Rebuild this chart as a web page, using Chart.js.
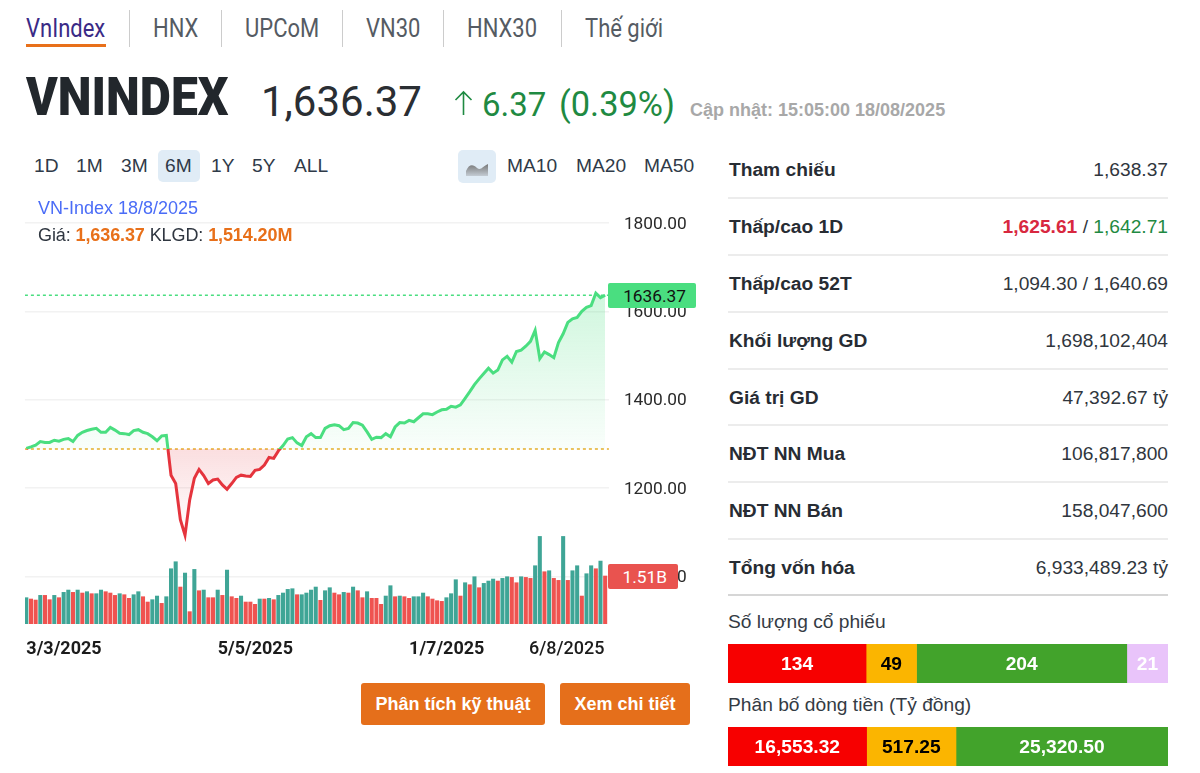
<!DOCTYPE html>
<html lang="vi">
<head>
<meta charset="utf-8">
<title>VNINDEX</title>
<script src="https://cdn.jsdelivr.net/npm/chart.js@4"></script>
<style>
  html, body { margin: 0; padding: 0; background: #fff; }
  body { position: relative; width: 1200px; height: 773px; overflow: hidden; font-family: "Liberation Sans", Arial, sans-serif; color: #2b3440; }
  .t { position: absolute; white-space: nowrap; line-height: 1; }
  .r { font-family: Roboto, sans-serif; }
  .tab { font-family: Roboto, sans-serif; font-size: 25px; color: #555b63; top: 16px; transform: scaleX(.88); transform-origin: left center; }
  .sep { position: absolute; top: 10px; width: 1px; height: 37px; background: #ccc; }
  .rng { font-size: 19.2px; top: 156px; color: #2f3a48; }
  .pill { position: absolute; background: #e0ecf6; border-radius: 5px; }
  .lab { font-weight: 700; font-size: 19.2px; left: 729px; color: #272c33; }
  .val { font-size: 19.2px; right: 32px; color: #30363d; }
  .div { position: absolute; left: 728px; width: 440px; height: 1.5px; background: #ececec; }
  .btn { position: absolute; top: 683px; height: 42px; line-height: 42px; background: #e56f1b; color: #fff; font-weight: 700; font-size: 18px; border-radius: 3px; text-align: center; }
  .tag { position: absolute; left: 608px; height: 25px; line-height: 26px; border-radius: 2px; font-family: Roboto, sans-serif; font-size: 17.3px; text-align: right; z-index: 3; }
  canvas { position: absolute; display: block; }
</style>
</head>
<body>
  <div class="t tab" style="left:26px;color:#3a2a86">VnIndex</div>
  <div style="position:absolute;left:26px;top:44px;width:80px;height:3px;background:#e8701a"></div>
  <div class="sep" style="left:129px"></div>
  <div class="t tab" style="left:153px">HNX</div>
  <div class="sep" style="left:221px"></div>
  <div class="t tab" style="left:245px">UPCoM</div>
  <div class="sep" style="left:342px"></div>
  <div class="t tab" style="left:366px">VN30</div>
  <div class="sep" style="left:443px"></div>
  <div class="t tab" style="left:467px">HNX30</div>
  <div class="sep" style="left:561px"></div>
  <div class="t tab" style="left:585px">Thế giới</div>

  <div class="t r" style="left:26px;top:70px;font-size:54px;font-weight:900;color:#22272c;transform:scaleX(.89);transform-origin:left center">VNINDEX</div>
  <div class="t r" style="left:261px;top:81px;font-size:42px;color:#2a2e33">1,636.37</div>
  <svg style="position:absolute;left:454px;top:90px" width="20" height="26" viewBox="0 0 20 26"><path d="M9.5 25 V2 M1.5 10 L9.5 2 L17.5 10" fill="none" stroke="#1f8a42" stroke-width="1.6"/></svg>
  <div class="t r" style="left:482px;top:88px;font-size:33px;color:#1f8a42">6.37</div>
  <div class="t r" style="left:559px;top:87px;font-size:34.4px;color:#1f8a42">(0.39%)</div>
  <div class="t" style="left:690px;top:101px;font-size:18px;font-weight:700;color:#a8a8a8">Cập nhật: 15:05:00 18/08/2025</div>

  <div class="pill" style="left:158px;top:150px;width:42px;height:32px"></div>
  <div class="t rng" style="left:34px">1D</div>
  <div class="t rng" style="left:76px">1M</div>
  <div class="t rng" style="left:121px">3M</div>
  <div class="t rng" style="left:165px">6M</div>
  <div class="t rng" style="left:211px">1Y</div>
  <div class="t rng" style="left:252px">5Y</div>
  <div class="t rng" style="left:294px">ALL</div>
  <div class="pill" style="left:458px;top:150px;width:38px;height:33px"></div>
  <svg style="position:absolute;left:465px;top:160px" width="24" height="20" viewBox="0 0 24 20">
    <defs><linearGradient id="ic" x1="0" y1="0" x2="0" y2="1"><stop offset="0" stop-color="#777"/><stop offset="1" stop-color="#c4ccd4"/></linearGradient></defs>
    <path d="M1 11 C4 4 8 4 12 8 C16 11 18 6 23 4 L23 16 L1 16 Z" fill="url(#ic)"/>
  </svg>
  <div class="t rng" style="left:507px">MA10</div>
  <div class="t rng" style="left:576px">MA20</div>
  <div class="t rng" style="left:644px">MA50</div>

  <canvas id="priceChart" width="700" height="470" style="left:0;top:190px;width:700px;height:470px"></canvas>
  <div class="t" style="left:38px;top:199px;font-size:18px;color:#4a6cf7;z-index:2">VN-Index 18/8/2025</div>
  <div class="t" style="left:38px;top:226px;font-size:18px;letter-spacing:-.1px;color:#2f3640;z-index:2">Giá: <b style="color:#e8701a">1,636.37</b> KLGD: <b style="color:#e8701a">1,514.20M</b></div>
  <div class="tag" style="top:283px;width:88px;background:#4ade80;color:#111"><span style="margin-right:10px">1636.37</span></div>
  <div class="tag" style="top:564px;width:70px;background:#e9534f;color:#fff"><span style="margin-right:11px">1.51B</span></div>

  <div class="btn" style="left:361px;width:184px">Phân tích kỹ thuật</div>
  <div class="btn" style="left:560px;width:130px">Xem chi tiết</div>

  <div class="t lab" style="top:160px">Tham chiếu</div><div class="t val" style="top:160px">1,638.37</div><div class="div" style="top:197px"></div>
  <div class="t lab" style="top:217px">Thấp/cao 1D</div><div class="t val" style="top:217px"><b style="color:#d8283f">1,625.61</b> / <span style="color:#1f8a42">1,642.71</span></div><div class="div" style="top:254px"></div>
  <div class="t lab" style="top:274px">Thấp/cao 52T</div><div class="t val" style="top:274px">1,094.30 / 1,640.69</div><div class="div" style="top:311px"></div>
  <div class="t lab" style="top:331px">Khối lượng GD</div><div class="t val" style="top:331px">1,698,102,404</div><div class="div" style="top:368px"></div>
  <div class="t lab" style="top:388px">Giá trị GD</div><div class="t val" style="top:388px">47,392.67 tỷ</div><div class="div" style="top:424px"></div>
  <div class="t lab" style="top:444px">NĐT NN Mua</div><div class="t val" style="top:444px">106,817,800</div><div class="div" style="top:481px"></div>
  <div class="t lab" style="top:501px">NĐT NN Bán</div><div class="t val" style="top:501px">158,047,600</div><div class="div" style="top:538px"></div>
  <div class="t lab" style="top:558px">Tổng vốn hóa</div><div class="t val" style="top:558px">6,933,489.23 tỷ</div>
  <div style="position:absolute;left:728px;top:594px;width:440px;height:2px;background:#d6d6d6"></div>

  <div class="t" style="left:728px;top:612px;font-size:19.2px;color:#343b44">Số lượng cổ phiếu</div>
  <canvas id="stockBar" width="440" height="39" style="left:728px;top:644px;width:440px;height:39px"></canvas>
  <div class="t" style="left:728px;top:695px;font-size:19.2px;color:#343b44">Phân bố dòng tiền (Tỷ đồng)</div>
  <canvas id="flowBar" width="440" height="39" style="left:728px;top:727px;width:440px;height:39px"></canvas>

<script>
// DATA
const closes = [1289.5,1293,1297,1305,1303,1303,1308,1306,1310,1312,1305,1319,1326,1330,1333,1335,1326,1326,1337,1331,1324,1323,1321,1330,1332,1326,1323,1316,1307,1318,1319,
  1229,1210,1128,1093,1173,1222,1242,1228,1210,1218,1220,1207,1197,1210,1224,1229,1227,1226,1240,1242,1252,1269,1267,1284,1296,1311,1314,1302,1296,1316,1323,1314,1314,
  1335,1341,1343,1341,1332,1335,1348,1347,1342,1327,1310,1315,1314,1323,1316,1338,1348,1347,1353,1350,1359,1368,1368,1366,1372,1377,1378,1385,1383,1388,
  1403,1418,1434,1447,1459,1471,1460,1467,1490,1498,1485,1509,1512,1521,1532,1557,1493,1508,1502,1495,1529,1549,1575,1583,1586,1600,1609,1613,1641,1631,1636.37];
const volumes = [830,788,756,903,903,767,903,830,998,1071,998,1071,977,1019,956,956,1071,1019,977,903,956,924,809,924,1019,861,693,767,882,651,861,
  1743,1964,1166,1607,389,1722,1050,1071,830,830,1071,903,1701,861,809,882,693,693,620,788,788,809,767,903,977,1092,1113,924,924,977,1071,1166,746,
  1050,1145,977,924,998,977,1166,1050,830,1019,809,809,620,882,1208,861,882,861,809,861,861,977,861,788,735,714,830,956,1397,882,
  1302,1239,1491,1145,1281,1355,1418,1355,1439,1491,1470,1302,1491,1470,1439,1838,2762,1649,1680,1439,1376,2762,1376,1680,1838,882,1586,1838,1743,1985,1514];
// T = teal, R = red volume bar
const volumeSides = ('TRRTRRTRTT'+'RTRTRTTRRR'+'TRRTTRRTTR'+'TTTRTRTRTR'+'RTRTRRTRRR'+'TRTRTTTTRT'+'TTTRTTRRTR'+'TRRTRRRTTR'+'TRRTTTRRRR'+'TTTRTRTRTT'+'TRTTRRTRRT'+'TRTRRTRTTR'+'TTRTR').split('');
const priceTicks = [1000,1200,1400,1600,1800];
const tickIndexes = [0,41,82,107.7]; // last label is pushed in from the right edge on the page
const tickLabels = ['3/3/2025','5/5/2025','1/7/2025','6/8/2025'];
const prevClose = 1288;
const lastPrice = 1636.37;

const stockCounts = [134,49,204,21];
const stockFloor = 40; // thin segments are widened on the page so the number fits
const flowValues = [16553.32,517.25,25320.50];
const flowFloor = 10674;

const xMin = -0.3, xMax = 124.8;

// ---------- MAIN CHART ----------
function lineColor(ctx) {
  const {chart} = ctx;
  if (!chart.chartArea) return '#4ade80';
  const {top, bottom} = chart.chartArea;
  const f = (chart.scales.y.getPixelForValue(prevClose) - top) / (bottom - top);
  const g = chart.ctx.createLinearGradient(0, top, 0, bottom);
  g.addColorStop(0, '#4ade80'); g.addColorStop(f, '#4ade80');
  g.addColorStop(f, '#e5343d'); g.addColorStop(1, '#e5343d');
  return g;
}
function areaFill(ctx) {
  const {chart} = ctx;
  if (!chart.chartArea) return false;
  const y = chart.scales.y;
  const up = chart.ctx.createLinearGradient(0, y.getPixelForValue(lastPrice), 0, y.getPixelForValue(prevClose));
  up.addColorStop(0, 'rgba(74,222,128,0.26)');
  up.addColorStop(1, 'rgba(74,222,128,0.03)');
  const down = chart.ctx.createLinearGradient(0, y.getPixelForValue(prevClose), 0, y.getPixelForValue(1090));
  down.addColorStop(0, 'rgba(229,52,61,0.16)');
  down.addColorStop(1, 'rgba(229,52,61,0)');
  return {target: {value: prevClose}, above: up, below: down};
}

new Chart(document.getElementById('priceChart'), {
  type: 'bar',
  data: {
    datasets: [
      { type: 'line', data: closes.map((y, x) => ({x, y})), yAxisID: 'y', borderColor: lineColor, borderWidth: 3, pointRadius: 0, tension: 0, fill: areaFill, order: 1 },
      { type: 'line', data: [{x: xMin, y: prevClose}, {x: xMax, y: prevClose}], yAxisID: 'y', borderColor: '#e6ae2a', borderWidth: 1.5, borderDash: [3, 3], pointRadius: 0, fill: false, order: 2 },
      { type: 'line', data: [{x: xMin, y: lastPrice}, {x: xMax, y: lastPrice}], yAxisID: 'y', borderColor: '#4ade80', borderWidth: 1.5, borderDash: [3, 3], pointRadius: 0, fill: false, order: 2 },
      { type: 'bar', data: volumes.map((y, x) => ({x, y})), yAxisID: 'vol', barThickness: 3.4,
        backgroundColor: volumeSides.map(s => s === 'T' ? '#3fa596' : '#ef5350'), order: 3 }
    ]
  },
  options: {
    responsive: false,
    animation: false,
    events: [],
    layout: { padding: { left: 24.9, top: 10, right: 0, bottom: 0 } },
    plugins: { legend: { display: false }, tooltip: { enabled: false } },
    scales: {
      x: {
        type: 'linear', min: xMin, max: xMax, offset: false,
        grid: { display: false }, border: { display: false },
        afterBuildTicks: s => { s.ticks = tickIndexes.map(value => ({value})); },
        afterFit: s => { s.height = 36; s.paddingLeft = 0; s.paddingRight = 0; },
        ticks: {
          align: 'start', maxRotation: 0, autoSkip: false, padding: 7, color: '#1c1c1c',
          font: ctx => ({ family: 'Roboto', size: 18, weight: ctx.index === 3 ? '500' : '700' }),
          callback: v => tickLabels[tickIndexes.indexOf(v)]
        }
      },
      y: {
        position: 'right', min: 892, max: 1852,
        grid: { color: '#f2f2f2', lineWidth: 1.5, drawTicks: false }, border: { display: false },
        afterBuildTicks: s => { s.ticks = priceTicks.map(value => ({value})); },
        afterFit: s => { s.width = 91.1; s.paddingTop = 0; s.paddingBottom = 0; },
        ticks: { padding: 15, labelOffset: 1.5, color: '#2a2a2a', font: { family: 'Roboto', size: 17.3 }, callback: v => v.toFixed(2) }
      },
      vol: { display: false, min: 0, max: 13374 }
    }
  }
});

// ---------- STACKED BARS ----------
const segmentLabels = {
  id: 'segmentLabels',
  afterDatasetsDraw(chart) {
    const {ctx} = chart;
    chart.data.datasets.forEach((ds, i) => {
      const bar = chart.getDatasetMeta(i).data[0];
      ctx.save();
      ctx.font = '700 19.2px "Liberation Sans"';
      ctx.fillStyle = ds.textColor;
      ctx.textAlign = 'center';
      ctx.textBaseline = 'middle';
      ctx.fillText(ds.text, bar.x - bar.width / 2, bar.y + 1);
      ctx.restore();
    });
  }
};

function stackedBar(id, values, floor, colors, textColors, format) {
  const shown = values.map(v => Math.max(v, floor));
  new Chart(document.getElementById(id), {
    type: 'bar',
    data: {
      labels: [''],
      datasets: values.map((v, i) => ({
        data: [shown[i]], backgroundColor: colors[i], barPercentage: 1, categoryPercentage: 1,
        text: format(v), textColor: textColors[i]
      }))
    },
    options: {
      indexAxis: 'y', responsive: false, animation: false, events: [],
      plugins: { legend: { display: false }, tooltip: { enabled: false } },
      scales: {
        x: { display: false, stacked: true, min: 0, max: shown.reduce((a, b) => a + b, 0) },
        y: { display: false, stacked: true }
      }
    },
    plugins: [segmentLabels]
  });
}
stackedBar('stockBar', stockCounts, stockFloor, ['#f70000','#fbb500','#42a32b','#e9c4fa'], ['#fff','#000','#fff','#fff'], v => String(v));
stackedBar('flowBar', flowValues, flowFloor, ['#f70000','#fbb500','#42a32b'], ['#fff','#000','#fff'],
  v => v.toLocaleString('en-US', {minimumFractionDigits: 2, maximumFractionDigits: 2}));
</script>
</body>
</html>
